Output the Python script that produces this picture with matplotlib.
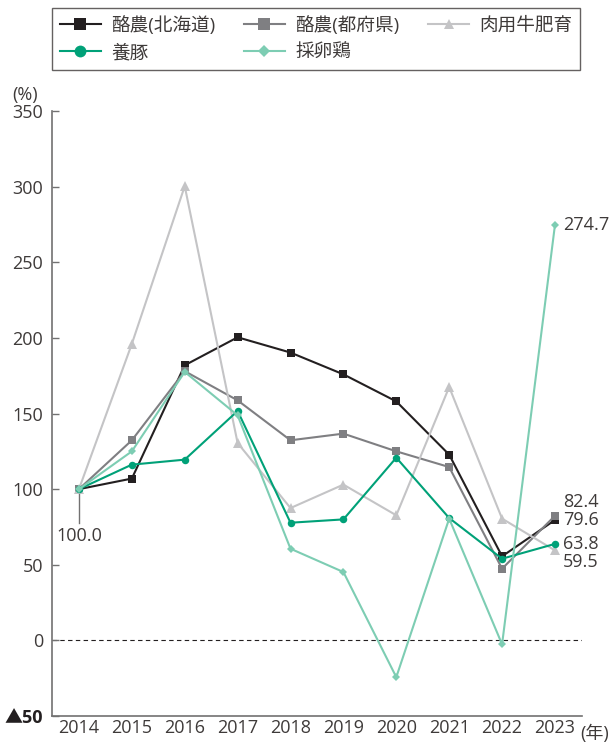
import matplotlib
matplotlib.use("Agg")
import matplotlib.pyplot as plt
from matplotlib.lines import Line2D

plt.rcParams['font.family'] = ['Open Sans', 'Noto Sans CJK JP', 'DejaVu Sans']

years = [2014, 2015, 2016, 2017, 2018, 2019, 2020, 2021, 2022, 2023]

dairy_hokkaido = [100.0, 107.0, 181.9, 200.4, 190.3, 175.9, 158.0, 122.8, 55.6, 79.6]
dairy_prefs = [100.0, 132.3, 178.0, 158.7, 132.3, 136.7, 125.0, 114.6, 47.4, 82.4]
beef_fattening = [100.0, 196.0, 300.3, 130.5, 87.5, 103.0, 82.7, 167.5, 80.5, 59.5]
pigs = [100.0, 116.2, 119.5, 151.7, 77.8, 80.0, 120.8, 80.9, 54.0, 63.8]
layers = [100.0, 125.0, 177.5, 148.8, 60.6, 45.2, -24.3, 80.5, -2.6, 274.7]

series_names = ["酪農(北海道)", "酪農(都府県)", "肉用牛肥育", "養豚", "採卵鶏"]

y_ticks = [-50, 0, 50, 100, 150, 200, 250, 300, 350]
y_labels = ["▲50", "0", "50", "100", "150", "200", "250", "300", "350"]

text_col = "#3e3a39"
axis_col = "#727171"
fs = 13

fig = plt.figure(figsize=(6.1, 7.43), dpi=100)
ax = fig.add_axes([0.0852, 0.0363, 0.8688, 0.8143])

# (values, colour, marker, size in plot, size in legend)
styles = [
    (dairy_hokkaido, "#231f20", "s", 5.6, 9.0),
    (dairy_prefs, "#7f7f82", "s", 5.6, 9.0),
    (beef_fattening, "#c4c4c6", "^", 6.5, 7.0),
    (pigs, "#00a178", "o", 5.4, 8.5),
    (layers, "#7dcdb3", "D", 4.3, 6.5),
]

proxies = []
for (vals, col, mk, ms, lms), name in zip(styles, series_names):
    ax.plot(years, vals, color=col, lw=1.5, marker=mk, ms=ms,
            markeredgewidth=0, zorder=3)
    proxies.append(Line2D([], [], color=col, lw=1.5, marker=mk, ms=lms,
                          markeredgewidth=0))

ax.axhline(0, color="#231f20", lw=0.8, ls=(0, (4, 3)), zorder=1)

ax.set_xlim(2013.49, 2023.51)
ax.set_ylim(-50, 350)
ax.set_xticks(years)
ax.set_xticklabels([str(y) for y in years])
ax.set_yticks(y_ticks)
ax.set_yticklabels(y_labels)
ax.tick_params(axis='x', length=0, pad=2, labelsize=fs, colors=text_col)
ax.tick_params(axis='y', direction='in', length=5, width=1, color=axis_col,
               pad=6.5, labelsize=fs, labelcolor=text_col)
yl = ax.get_yticklabels()
yl[0].set_fontweight('bold')
yl[0].set_color("#231f20")

for side in ['top', 'right']:
    ax.spines[side].set_visible(False)
for side in ['left', 'bottom']:
    ax.spines[side].set_color(axis_col)
    ax.spines[side].set_linewidth(1.2)

fig.text(12 / 610, 1 - 100 / 743, "(%)", ha='left', va='baseline',
         fontsize=fs, color=text_col)
fig.text(609 / 610, 1 - 739 / 743, "(年)", ha='right', va='baseline',
         fontsize=fs, color=text_col)

# start value label
ax.plot([years[0], years[0]], [100, 77.5], color=axis_col, lw=1.0, zorder=2)
ax.text(years[0], 69, "100.0", ha='center', va='center', fontsize=fs, color=text_col)

# end value labels
end_labels = [(layers[-1], 274.5), (dairy_prefs[-1], 91.5), (dairy_hokkaido[-1], 79.4),
              (pigs[-1], 64.0), (beef_fattening[-1], 51.8)]
for val, ypos in end_labels:
    ax.text(years[-1] + 0.15, ypos, f"{val:.1f}", ha='left', va='center',
            fontsize=fs, color=text_col)

order = [0, 3, 1, 4, 2]
leg = fig.legend(handles=[proxies[i] for i in order],
                 labels=[series_names[i] for i in order],
                 loc='upper left', bbox_to_anchor=(52 / 610, 1 - 8 / 743),
                 ncol=3, frameon=True, fancybox=False, fontsize=13.4,
                 handlelength=2.2, handletextpad=0.55, columnspacing=1.55,
                 borderpad=0.42, borderaxespad=0, labelspacing=0.5,
                 labelcolor=text_col)
leg.get_frame().set_edgecolor("#3e3a39")
leg.get_frame().set_linewidth(1.0)

fig.savefig("out.png", dpi=100)
